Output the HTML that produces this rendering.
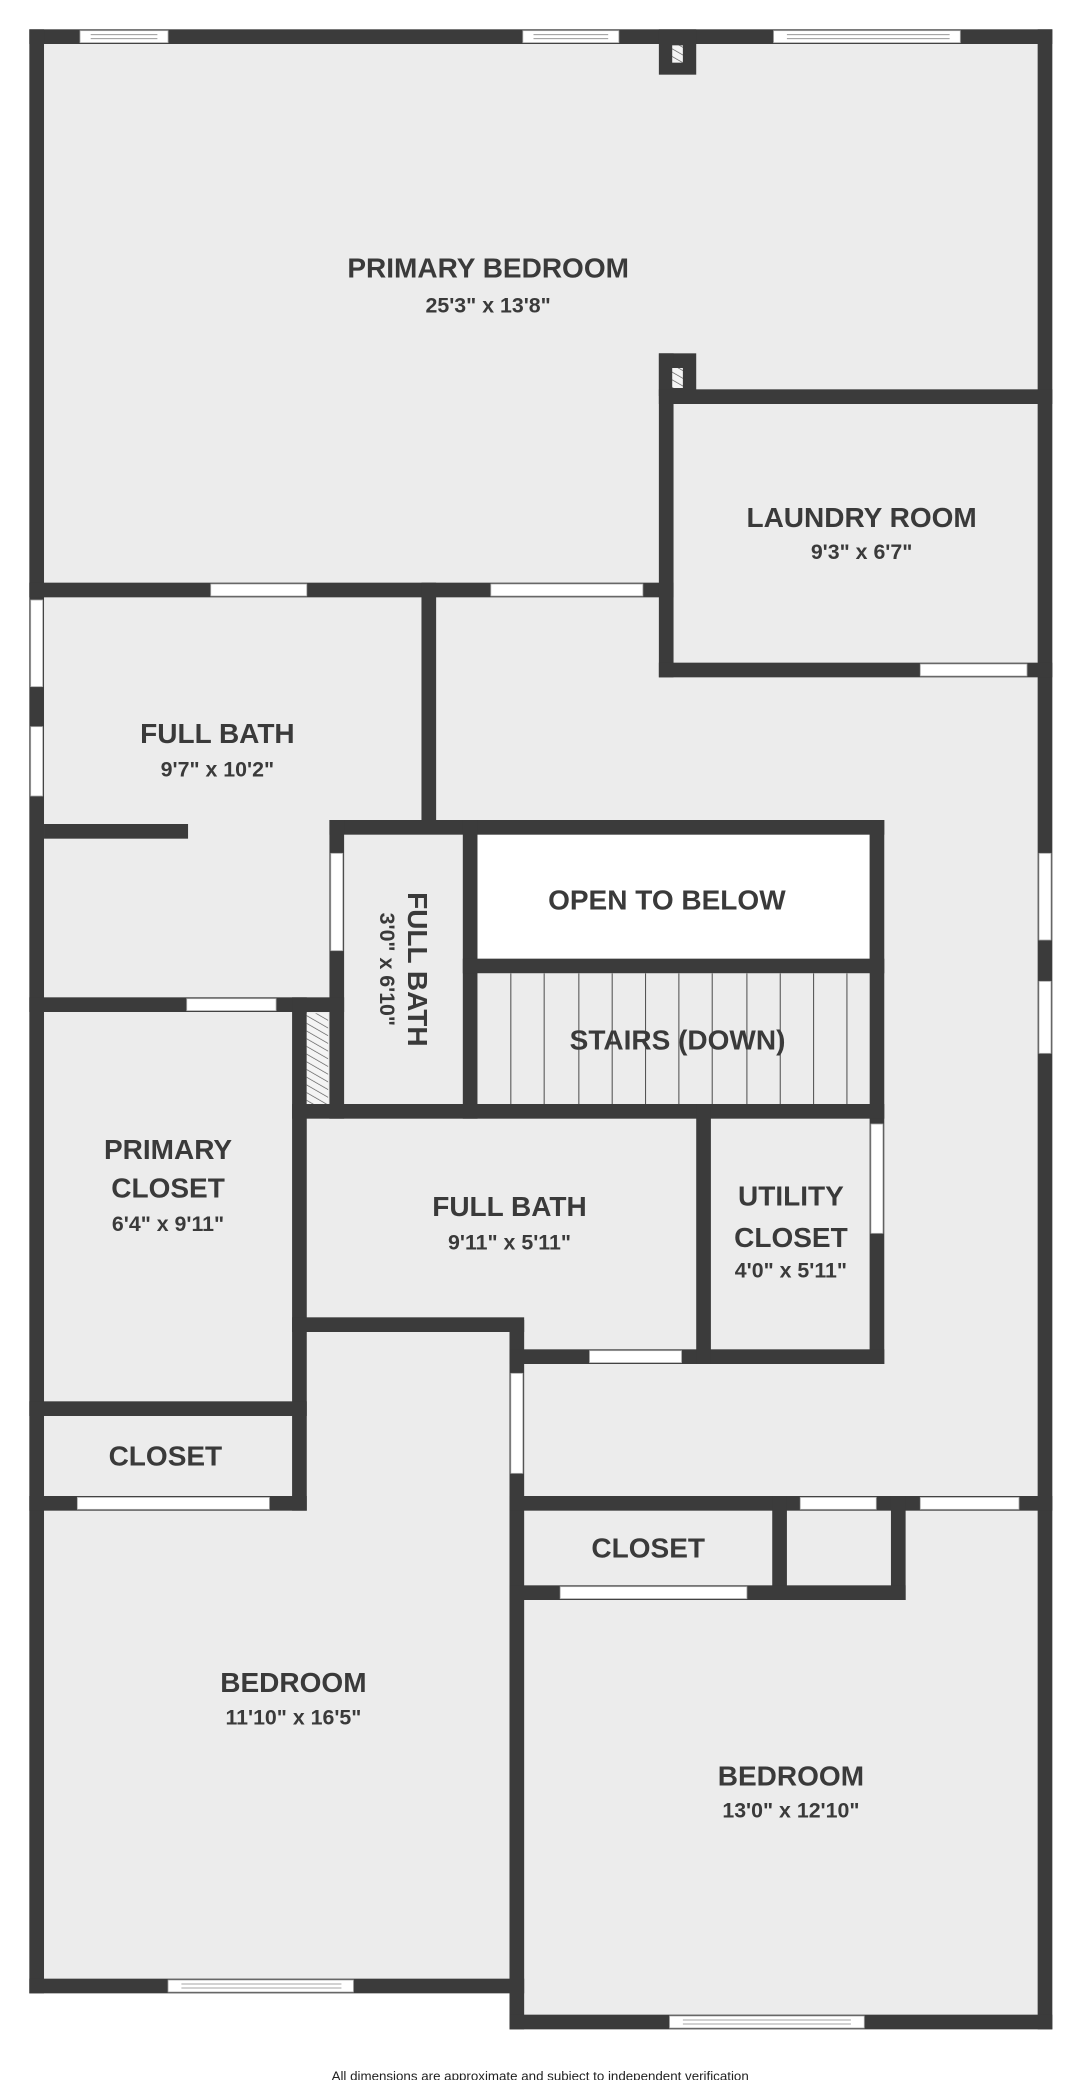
<!DOCTYPE html>
<html><head><meta charset="utf-8"><style>
html,body{margin:0;padding:0;background:#fff}
svg{display:block}
text{font-family:"Liberation Sans",sans-serif;font-weight:bold;fill:#3a3a3a;text-anchor:middle;dominant-baseline:central}
.t{font-size:21px}.d{font-size:16px}
</style></head><body>
<svg width="1075" height="2080" viewBox="0 0 806 1560" preserveAspectRatio="none">
<defs>
<pattern id="h" width="5" height="5" patternUnits="userSpaceOnUse" patternTransform="rotate(-60)">
<rect width="5" height="5" fill="#f4f4f4"/><line x1="0" y1="0" x2="0" y2="5" stroke="#555" stroke-width="1"/></pattern>
</defs>
<!-- floor fills -->
<rect x="22" y="22" width="767" height="1473" fill="#ececec"/>
<rect x="382" y="1120" width="407" height="402" fill="#ececec"/>
<rect x="358" y="626" width="294" height="93" fill="#fff"/>
<g fill="#3b3b3b">
<!-- outer -->
<rect x="22" y="22" width="767" height="11"/>
<rect x="22" y="22" width="11" height="1473"/>
<rect x="778" y="22" width="11" height="1500"/>
<rect x="22" y="1484" width="371" height="11"/>
<rect x="382" y="990" width="11" height="532"/>
<rect x="382" y="1511" width="407" height="11"/>
<!-- columns -->
<rect x="494" y="22" width="28" height="34"/>
<rect x="494" y="265" width="28" height="32"/>
<!-- primary bedroom bottom -->
<rect x="22" y="437" width="483" height="11"/>
<rect x="494" y="265" width="11" height="243"/>
<rect x="494" y="292" width="295" height="11"/>
<rect x="494" y="497" width="295" height="11"/>
<rect x="316" y="437" width="11" height="180"/>
<rect x="33" y="618" width="108" height="11"/>
<!-- central block -->
<rect x="247" y="615" width="416" height="11"/>
<rect x="247" y="615" width="11" height="224"/>
<rect x="347" y="615" width="11" height="224"/>
<rect x="347" y="719" width="316" height="11"/>
<rect x="652" y="615" width="11" height="408"/>
<rect x="219" y="828" width="444" height="11"/>
<rect x="22" y="748" width="236" height="11"/>
<rect x="219" y="748" width="11" height="385"/>
<rect x="219" y="988" width="174" height="11"/>
<rect x="382" y="1012" width="281" height="11"/>
<rect x="522" y="828" width="11" height="195"/>
<rect x="22" y="1051" width="208" height="11"/>
<rect x="22" y="1122" width="208" height="11"/>
<rect x="382" y="1122" width="407" height="11"/>
<rect x="579" y="1122" width="11" height="78"/>
<rect x="668" y="1122" width="11" height="78"/>
<rect x="382" y="1189" width="297" height="11"/>
</g>
<!-- hatches -->
<rect x="504" y="34" width="8" height="13" fill="url(#h)"/>
<rect x="504" y="276" width="8" height="15" fill="url(#h)"/>
<rect x="230" y="760" width="16" height="68" fill="url(#h)"/>
<!-- stairs -->
<rect x="358" y="730" width="294" height="98" fill="#ececec"/>
<g stroke="#555" stroke-width="0.8">
<line x1="383" y1="730" x2="383" y2="828"/><line x1="408" y1="730" x2="408" y2="828"/><line x1="434" y1="730" x2="434" y2="828"/><line x1="459" y1="730" x2="459" y2="828"/><line x1="484" y1="730" x2="484" y2="828"/><line x1="509" y1="730" x2="509" y2="828"/><line x1="534" y1="730" x2="534" y2="828"/><line x1="560" y1="730" x2="560" y2="828"/><line x1="585" y1="730" x2="585" y2="828"/><line x1="610" y1="730" x2="610" y2="828"/><line x1="635" y1="730" x2="635" y2="828"/>
</g>
<!-- openings / windows -->
<g fill="#fff" stroke="#aaa" stroke-width="0.6">
<rect x="60" y="23" width="66" height="9"/><rect x="392" y="23" width="72" height="9"/><rect x="580" y="23" width="140" height="9"/>
<rect x="158" y="438" width="72" height="9"/><rect x="368" y="438" width="114" height="9"/>
<rect x="690" y="498" width="80" height="9"/>
<rect x="23" y="450" width="9" height="65"/><rect x="23" y="545" width="9" height="52"/>
<rect x="248" y="640" width="9" height="73"/>
<rect x="140" y="749" width="67" height="9"/>
<rect x="653" y="843" width="9" height="82"/>
<rect x="383" y="1030" width="9" height="75"/>
<rect x="442" y="1013" width="69" height="9"/>
<rect x="58" y="1123" width="144" height="9"/>
<rect x="600" y="1123" width="57" height="9"/><rect x="690" y="1123" width="74" height="9"/>
<rect x="420" y="1190" width="140" height="9"/>
<rect x="779" y="640" width="9" height="65"/><rect x="779" y="736" width="9" height="54"/>
<rect x="126" y="1485" width="139" height="9"/><rect x="502" y="1512" width="146" height="9"/>
</g>
<g stroke="#888" stroke-width="0.6">
<line x1="68" y1="26" x2="118" y2="26"/><line x1="68" y1="29" x2="118" y2="29"/>
<line x1="400" y1="26" x2="456" y2="26"/><line x1="400" y1="29" x2="456" y2="29"/>
<line x1="590" y1="26" x2="712" y2="26"/><line x1="590" y1="29" x2="712" y2="29"/>
<line x1="136" y1="1488" x2="256" y2="1488"/><line x1="136" y1="1491" x2="256" y2="1491"/>
<line x1="512" y1="1515" x2="638" y2="1515"/><line x1="512" y1="1518" x2="638" y2="1518"/>
</g>
<!-- labels -->
<text x="366" y="201" class="t">PRIMARY BEDROOM</text><text x="366" y="229" class="d">25'3" x 13'8"</text>
<text x="646" y="388" class="t">LAUNDRY ROOM</text><text x="646" y="414" class="d">9'3" x 6'7"</text>
<text x="163" y="550" class="t">FULL BATH</text><text x="163" y="577" class="d">9'7" x 10'2"</text>
<text x="313" y="727" class="t" transform="rotate(90 313 727)">FULL BATH</text>
<text x="290" y="727" class="d" transform="rotate(90 290 727)">3'0" x 6'10"</text>
<text x="500" y="675" class="t">OPEN TO BELOW</text>
<text x="508" y="780" class="t">STAIRS (DOWN)</text>
<text x="126" y="862" class="t">PRIMARY</text><text x="126" y="891" class="t">CLOSET</text><text x="126" y="918" class="d">6'4" x 9'11"</text>
<text x="382" y="905" class="t">FULL BATH</text><text x="382" y="932" class="d">9'11" x 5'11"</text>
<text x="593" y="897" class="t">UTILITY</text><text x="593" y="928" class="t">CLOSET</text><text x="593" y="953" class="d">4'0" x 5'11"</text>
<text x="124" y="1092" class="t">CLOSET</text>
<text x="486" y="1161" class="t">CLOSET</text>
<text x="220" y="1262" class="t">BEDROOM</text><text x="220" y="1288" class="d">11'10" x 16'5"</text>
<text x="593" y="1332" class="t">BEDROOM</text><text x="593" y="1358" class="d">13'0" x 12'10"</text>
<text x="405" y="1557" style="font-size:10px;font-weight:normal;fill:#222">All dimensions are approximate and subject to independent verification</text>
</svg>
</body></html>
